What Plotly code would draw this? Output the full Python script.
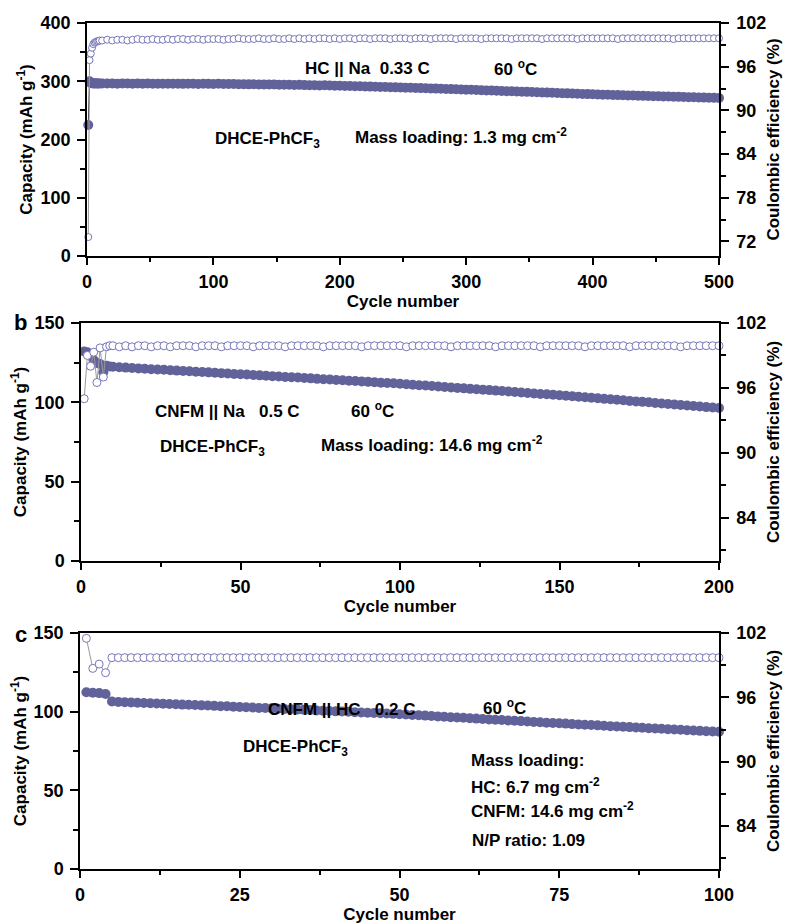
import plotly.graph_objects as go

# ---------------- DATA ----------------
# Panel a : HC || Na, 0.33 C, 60 C
cycles_a = list(range(1, 11)) + list(range(12, 501, 4))
cap_a = [225.0, 300.0, 297.0, 296.5, 296.3, 296.2, 296.4, 296.1, 296.3, 296.2,
         296.2, 296.0, 296.3, 295.9, 296.1, 296.0, 295.8, 296.1, 295.9, 296.0,
         295.7, 295.9, 295.8, 295.6, 295.9, 295.7, 295.5, 295.8, 295.6, 295.4,
         295.7, 295.5, 295.3, 295.6, 295.4, 295.2, 295.3, 295.0,
         294.9, 294.7, 294.8, 294.5, 294.6, 294.3, 294.4, 294.1, 294.0, 293.9,
         293.7, 293.8, 293.4, 293.3, 293.2, 292.9, 293.0, 292.6, 292.4, 292.2,
         292.0, 291.8, 291.5, 291.3, 291.0, 290.8, 290.5, 290.3, 290.0, 289.7,
         289.5, 289.2, 289.0, 288.7, 288.4, 288.2, 287.9, 287.6, 287.4, 287.1,
         286.8, 286.5, 286.2, 285.9, 285.6,
         285.3, 285.0, 284.7, 284.3, 284.0, 283.7, 283.4, 283.0, 282.8, 282.4,
         282.1, 281.8, 281.5, 281.1, 280.8, 280.5, 280.2, 279.8, 279.5, 279.2,
         278.9, 278.5, 278.2, 277.9, 277.6,
         277.3, 277.0, 276.8, 276.5, 276.2, 276.0, 275.7, 275.5, 275.2, 274.9,
         274.7, 274.4, 274.2, 273.9, 273.7, 273.4, 273.2, 272.9, 272.7, 272.4,
         272.2, 271.9, 271.7, 271.5, 271.2]
ce_a = [72.6, 96.9, 97.8, 98.6, 99.1, 99.3, 99.4, 99.5, 99.5, 99.6,
        99.6, 99.7, 99.6, 99.7, 99.7, 99.6, 99.7, 99.8, 99.7, 99.7,
        99.8, 99.7, 99.7, 99.8, 99.7, 99.8, 99.8, 99.7, 99.8, 99.8,
        99.7, 99.8, 99.8, 99.8, 99.7, 99.8, 99.8, 99.9, 99.8, 99.8,
        99.8, 99.9, 99.8, 99.8, 99.9, 99.8, 99.8, 99.9, 99.8, 99.9,
        99.8, 99.9, 99.8, 99.9, 99.9, 99.8, 99.9, 99.8, 99.9, 99.9,
        99.8, 99.9, 99.9, 99.8, 99.9, 99.9, 99.9, 99.8, 99.9, 99.9,
        99.9, 99.8, 99.9, 99.9, 99.9, 99.8, 99.9, 99.9, 99.9, 99.9,
        99.8, 99.9, 99.9, 99.9, 99.9, 99.8, 99.9, 99.9, 99.9, 99.9,
        99.9, 99.8, 99.9, 99.9, 99.9, 99.9, 99.9, 99.8, 99.9, 99.9,
        99.9, 99.9, 99.9, 99.9, 99.8, 99.9, 99.9, 99.9, 99.9, 99.9,
        99.9, 99.9, 99.8, 99.9, 99.9, 99.9, 99.9, 99.9, 99.9, 99.9,
        99.9, 99.9, 99.9, 99.8, 99.9, 99.9, 99.9, 99.9, 99.9, 99.9,
        99.9, 99.9, 99.9]

# Panel b : CNFM || Na, 0.5 C, 60 C
cycles_b = list(range(1, 11)) + list(range(12, 201, 2))
cap_b = [132.0, 131.5, 129.5, 126.5, 124.8, 124.2, 119.0, 123.0, 122.6, 122.4,
         122.1, 121.9, 121.6, 121.4, 121.2, 120.9, 120.7, 120.5, 120.2, 120.0,
         119.8, 119.6, 119.3, 119.1, 118.9, 118.6, 118.4, 118.2, 117.9, 117.7,
         117.5, 117.2, 117.0, 116.8, 116.5, 116.3, 116.0, 115.8, 115.6, 115.3,
         115.1, 114.8, 114.6, 114.4, 114.1, 113.9, 113.6, 113.4, 113.2, 112.9,
         112.7, 112.4, 112.2, 112.0, 111.7,
         111.4, 111.1, 110.8, 110.6, 110.3, 110.0, 109.7, 109.4, 109.1, 108.8,
         108.5, 108.2, 108.0, 107.7, 107.4, 107.1, 106.8, 106.5, 106.2, 105.9,
         105.6, 105.3, 105.1, 104.8, 104.5,
         104.2, 103.9, 103.5, 103.2, 102.9, 102.6, 102.2, 101.9, 101.6, 101.3,
         100.9, 100.6, 100.3, 100.0, 99.6, 99.3, 99.0, 98.7, 98.3, 98.0,
         97.7, 97.4, 97.0, 96.7, 96.4]
ce_b = [95.0, 99.0, 98.0, 99.3, 96.5, 99.7, 97.0, 99.8, 99.9, 99.9,
        99.8, 99.9, 99.8, 99.9, 99.9, 99.8, 99.9, 99.9, 99.8, 99.9,
        99.9, 99.9, 99.8, 99.9, 99.9, 99.9, 99.8, 99.9, 99.9, 99.9,
        99.9, 99.8, 99.9, 99.9, 99.9, 99.9, 99.8, 99.9, 99.9, 99.9,
        99.9, 99.9, 99.8, 99.9, 99.9, 99.9, 99.9, 99.9, 99.8, 99.9,
        99.9, 99.9, 99.9, 99.9, 99.9, 99.8, 99.9, 99.9, 99.9, 99.9,
        99.9, 99.9, 99.8, 99.9, 99.9, 99.9, 99.9, 99.9, 99.9, 99.8,
        99.9, 99.9, 99.9, 99.9, 99.9, 99.9, 99.8, 99.9, 99.9, 99.9,
        99.9, 99.9, 99.9, 99.8, 99.9, 99.9, 99.9, 99.9, 99.9, 99.9,
        99.8, 99.9, 99.9, 99.9, 99.9, 99.9, 99.9, 99.9, 99.8, 99.9,
        99.9, 99.9, 99.9, 99.9, 99.9]

# Panel c : CNFM || HC full cell, 0.2 C, 60 C
cycles_c = list(range(1, 101))
cap_c = [112.3, 112.0, 111.8, 111.2, 106.5,
         106.2, 106.0, 105.9, 105.7, 105.5, 105.4, 105.2, 105.0, 104.9, 104.7,
         104.5, 104.4, 104.2, 104.0, 103.9, 103.7, 103.5, 103.4, 103.2, 103.0,
         102.8, 102.6, 102.4, 102.3, 102.1, 101.9, 101.7, 101.5, 101.3, 101.2,
         101.0, 100.8, 100.6, 100.4, 100.2, 100.1, 99.9, 99.7, 99.5, 99.3,
         99.1, 99.0, 98.8, 98.6, 98.4,
         98.2, 97.9, 97.7, 97.5, 97.2, 97.0, 96.8, 96.5, 96.3, 96.1,
         95.8, 95.6, 95.4, 95.1, 94.9, 94.7, 94.4, 94.2, 94.0, 93.7,
         93.5, 93.3, 93.0, 92.8, 92.6,
         92.4, 92.1, 91.9, 91.7, 91.5, 91.3, 91.1, 90.8, 90.6, 90.4,
         90.2, 90.0, 89.8, 89.5, 89.3, 89.1, 88.9, 88.7, 88.5, 88.2,
         88.0, 87.8, 87.6, 87.4, 87.2]
ce_c = [101.5, 98.7, 99.1, 98.3, 99.7,
        99.7, 99.7, 99.7, 99.7, 99.7, 99.7, 99.7, 99.7, 99.7, 99.7,
        99.7, 99.7, 99.7, 99.7, 99.7, 99.7, 99.7, 99.7, 99.7, 99.7,
        99.7, 99.7, 99.7, 99.7, 99.7, 99.7, 99.7, 99.7, 99.7, 99.7,
        99.7, 99.7, 99.7, 99.7, 99.7, 99.7, 99.7, 99.7, 99.7, 99.7,
        99.7, 99.7, 99.7, 99.7, 99.7,
        99.7, 99.7, 99.7, 99.7, 99.7, 99.7, 99.7, 99.7, 99.7, 99.7,
        99.7, 99.7, 99.7, 99.7, 99.7, 99.7, 99.7, 99.7, 99.7, 99.7,
        99.7, 99.7, 99.7, 99.7, 99.7,
        99.7, 99.7, 99.7, 99.7, 99.7, 99.7, 99.7, 99.7, 99.7, 99.7,
        99.7, 99.7, 99.7, 99.7, 99.7, 99.7, 99.7, 99.7, 99.7, 99.7,
        99.7, 99.7, 99.7, 99.7, 99.7]

# ---------------- STYLE / LAYOUT ----------------
OX, OY = 8, 8          # page body margin offset
W, H = 792 - OX, 924 - OY
FONT = "Liberation Sans, Arial, sans-serif"
FILL = "#62629A"
OPEN = "#7676B8"


def fx(px):
    return (px - OX) / W


def fy(py):
    return 1 - (py - OY) / H


panels = [
    dict(px=(87, 719), py=(23, 256), xr=[0, 500], xd=100, xm=50,
         yr=[0, 400], yd=100, ym=50, y2r=[70, 102], y2t0=72),
    dict(px=(81, 719), py=(323, 561), xr=[0, 200], xd=50, xm=25,
         yr=[0, 150], yd=50, ym=25, y2r=[80, 102], y2t0=84),
    dict(px=(80, 719), py=(633, 869), xr=[0, 100], xd=25, xm=12.5,
         yr=[0, 150], yd=50, ym=25, y2r=[80, 102], y2t0=84),
]
series = [(cycles_a, cap_a, ce_a), (cycles_b, cap_b, ce_b), (cycles_c, cap_c, ce_c)]
msize = [(10, 7), (10, 8), (10, 8)]

fig = go.Figure()
layout = dict(width=W, height=H, margin=dict(l=0, r=0, t=0, b=0, autoexpand=False),
              paper_bgcolor="white", plot_bgcolor="white", showlegend=False,
              font=dict(family=FONT, size=15, color="black"))

tickfont = dict(family=FONT, size=18, color="black", weight="bold")
titlefont = dict(family=FONT, size=17, color="black", weight="bold")

for i, (p, (cx, cap, ce)) in enumerate(zip(panels, series)):
    n = 2 * i + 1
    xname = "xaxis" if i == 0 else f"xaxis{i+1}"
    xref = "x" if i == 0 else f"x{i+1}"
    yname = "yaxis" if n == 1 else f"yaxis{n}"
    yref = "y" if n == 1 else f"y{n}"
    y2name = f"yaxis{n+1}"
    y2ref = f"y{n+1}"
    xd = [fx(p["px"][0]), fx(p["px"][1])]
    yd = [fy(p["py"][1]), fy(p["py"][0])]
    layout[xname] = dict(domain=xd, range=p["xr"], anchor=yref, showline=True, linecolor="black",
                         linewidth=1.5, mirror=True, ticks="outside", ticklen=7, tickwidth=1.5,
                         tickcolor="black", dtick=p["xd"], tick0=0, showgrid=False, zeroline=False,
                         tickfont=tickfont, ticklabelstandoff=2, automargin=False,
                         minor=dict(ticks="outside", ticklen=4, tickwidth=1.5, tickcolor="black",
                                    dtick=p["xm"], tick0=0, showgrid=False),
                         title=dict(text="Cycle number", font=titlefont, standoff=2))
    layout[yname] = dict(domain=yd, range=p["yr"], anchor=xref, showline=True, linecolor="black",
                         linewidth=1.5, ticks="outside", ticklen=8, tickwidth=1.5, tickcolor="black",
                         dtick=p["yd"], tick0=0, showgrid=False, zeroline=False, tickfont=tickfont,
                         ticklabelstandoff=3, automargin=False,
                         minor=dict(ticks="outside", ticklen=5, tickwidth=1.5, tickcolor="black",
                                    dtick=p["ym"], tick0=0, showgrid=False),
                         title=dict(text="Capacity (mAh g<sup>-1</sup>)", font=titlefont, standoff=4))
    layout[y2name] = dict(range=p["y2r"], overlaying=yref, anchor=xref, side="right", showline=True,
                          linecolor="black", linewidth=1.5, ticks="outside", ticklen=8, tickwidth=1.5,
                          tickcolor="black", dtick=6, tick0=p["y2t0"], showgrid=False, zeroline=False,
                          tickfont=tickfont, ticklabelstandoff=4, automargin=False,
                          minor=dict(ticks="outside", ticklen=5, tickwidth=1.5, tickcolor="black",
                                     dtick=3, tick0=p["y2t0"], showgrid=False),
                          title=dict(text="Coulombic efficiency (%)", font=titlefont, standoff=2))
    fs, os_ = msize[i]
    fig.add_trace(go.Scatter(x=cx, y=cap, xaxis=xref, yaxis=yref, mode="lines+markers",
                             line=dict(color="#222222", width=1), cliponaxis=False,
                             marker=dict(symbol="circle", size=fs, color=FILL,
                                         line=dict(color=FILL, width=0))))
    fig.add_trace(go.Scatter(x=cx, y=ce, xaxis=xref, yaxis=y2ref, mode="lines+markers",
                             line=dict(color="#9a9a9a", width=1), cliponaxis=False,
                             marker=dict(symbol="circle", size=os_, color="white",
                                         line=dict(color=OPEN, width=1))))


def ann(text, xpx, ypx, size=17, bold=True):
    return dict(text=text, x=fx(xpx), y=fy(ypx),
                xref="paper", yref="paper", xanchor="left", yanchor="middle", showarrow=False,
                font=dict(family=FONT, size=size, color="black", weight="bold" if bold else "normal"))


annotations = [
    ann("HC || Na  0.33 C", 303, 68),
    ann("60 <sup>o</sup>C", 492, 68),
    ann("DHCE-PhCF<sub>3</sub>", 213, 140),
    ann("Mass loading: 1.3 mg cm<sup>-2</sup>", 353, 136),
    ann("CNFM || Na   0.5 C", 153, 411),
    ann("60 <sup>o</sup>C", 349, 410),
    ann("DHCE-PhCF<sub>3</sub>", 158, 448),
    ann("Mass loading: 14.6 mg cm<sup>-2</sup>", 319, 444),
    ann("CNFM || HC   0.2 C", 266, 709),
    ann("60 <sup>o</sup>C", 481, 707),
    ann("DHCE-PhCF<sub>3</sub>", 241, 748),
    ann("Mass loading:", 469, 760),
    ann("HC: 6.7 mg cm<sup>-2</sup>", 469, 786),
    ann("CNFM: 14.6 mg cm<sup>-2</sup>", 469, 810),
    ann("N/P ratio: 1.09", 470, 840),
    ann("b", 12, 322, size=22),
    ann("c", 13, 634, size=22),
]
layout["annotations"] = annotations
fig.update_layout(**layout)
fig.write_html("out.html")
